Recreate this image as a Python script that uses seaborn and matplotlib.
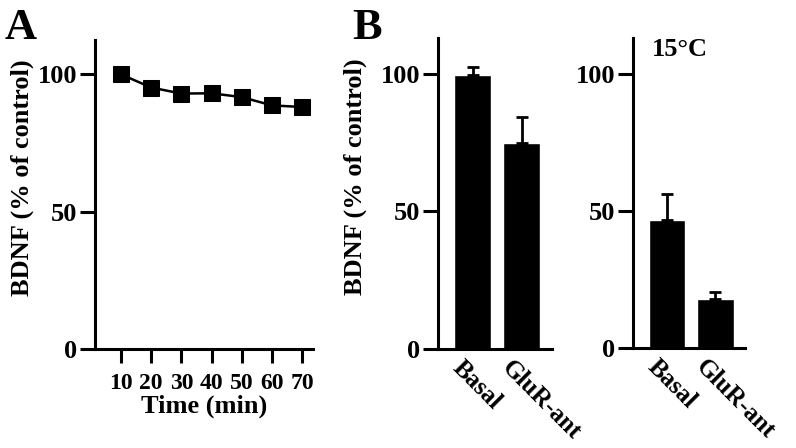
import numpy as np
import pandas as pd
import matplotlib
matplotlib.use("Agg")
import matplotlib.pyplot as plt
import matplotlib.transforms as mtransforms
import seaborn as sns

# ---- data ----
times = [10, 20, 30, 40, 50, 60, 70]
bdnf_time = [100.0, 95.2, 93.0, 93.1, 91.7, 88.7, 88.1]

categories = ["Basal", "GluR-ant"]
means_37 = [99.6, 75.0]
err_37 = [2.8, 9.2]
means_15 = [46.7, 17.9]
err_15 = [9.3, 2.6]

yticks = [0, 50, 100]

sns.set_theme(style="ticks")
plt.rcParams["font.family"] = ["Liberation Serif", "DejaVu Serif"]
plt.rcParams["font.weight"] = "bold"
plt.rcParams["axes.labelweight"] = "bold"
for k in ("text.color", "axes.labelcolor", "xtick.color", "ytick.color",
          "xtick.labelcolor", "ytick.labelcolor", "axes.edgecolor"):
    plt.rcParams[k] = "black"

LW = 2.2
FS = 19

fig = plt.figure(figsize=(7.96, 4.48), dpi=100)
W, H = 796, 448


def ax_px(l, r, b, t):
    return fig.add_axes([l / W, 1 - b / H, (r - l) / W, (b - t) / H])


def style(ax):
    sns.despine(ax=ax)
    for s in ("left", "bottom"):
        ax.spines[s].set_linewidth(LW)
        ax.spines[s].set_color("black")
    ax.set_yticks(yticks)
    ax.set_yticklabels([str(v) for v in yticks], fontsize=FS, fontweight="bold")
    ax.tick_params(axis="y", length=11, width=LW, color="black",
                   labelcolor="black", pad=2)
    ax.set_facecolor("white")


# ---- Panel A ----
axA = ax_px(95, 313, 349, 40)
dfA = pd.DataFrame({"time": times, "bdnf": bdnf_time})
sns.lineplot(data=dfA, x="time", y="bdnf", ax=axA, color="black", lw=1.8,
             marker="s", markersize=11, markeredgecolor="black")
axA.set_ylim(0, 112.5)
axA.set_xlim(1.4, 73.6)
style(axA)
axA.set_xticks(times)
axA.set_xticklabels([str(t) for t in times], fontsize=17, fontweight="bold")
axA.tick_params(axis="x", length=10, width=LW, color="black",
                labelcolor="black", pad=7)
axA.set_xlabel("Time (min)", fontsize=FS, fontweight="bold", labelpad=1,
               color="black")
axA.set_ylabel("BDNF (% of control)", fontsize=FS, fontweight="bold",
               color="black")
axA.yaxis.set_label_coords(-0.28, 0.553)


# ---- Panel B ----
def bar_panel(l, r, b, t, means, errs, ylabel):
    ax = ax_px(l, r, b, t)
    df = pd.DataFrame({"cond": categories, "val": means})
    sns.barplot(data=df, x="cond", y="val", ax=ax, color="black",
                width=0.75, errorbar=None, saturation=1)
    xs = np.arange(len(categories))
    ax.errorbar(xs, means, yerr=[np.zeros(len(errs)), errs], fmt="none",
                ecolor="black", elinewidth=2.0, capsize=4, capthick=2.0)
    ax.set_ylim(0, 113)
    ax.set_xlim(-0.70, 1.61)
    style(ax)
    ax.tick_params(axis="x", length=0, pad=5, labelcolor="black")
    ax.set_xticks(xs)
    ax.set_xticklabels(categories, rotation=-45, ha="left", va="top",
                       rotation_mode="anchor", fontsize=18, fontweight="bold")
    off = mtransforms.ScaledTranslation(-0.08, 0, fig.dpi_scale_trans)
    for lab in ax.get_xticklabels():
        lab.set_transform(lab.get_transform() + off)
    ax.set_xlabel("")
    if ylabel:
        ax.set_ylabel("BDNF (% of control)", fontsize=FS, fontweight="bold",
                      color="black")
        ax.yaxis.set_label_coords(-0.62, 0.553)
    else:
        ax.set_ylabel("")
    return ax


axB1 = bar_panel(438, 552, 349, 38, means_37, err_37, True)
axB2 = bar_panel(633, 745, 348, 38, means_15, err_15, False)
axB2.text(0.17, 1.0, "15°C", transform=axB2.transAxes, fontsize=FS,
          fontweight="bold", ha="left", va="top", color="black")

fig.text(5 / W, 1 - 39 / H, "A", fontsize=32, fontweight="bold", ha="left",
         va="baseline", color="black")
fig.text(352 / W, 1 - 39 / H, "B", fontsize=32, fontweight="bold", ha="left",
         va="baseline", color="black")

fig.savefig("out.png", dpi=100, facecolor="white")
